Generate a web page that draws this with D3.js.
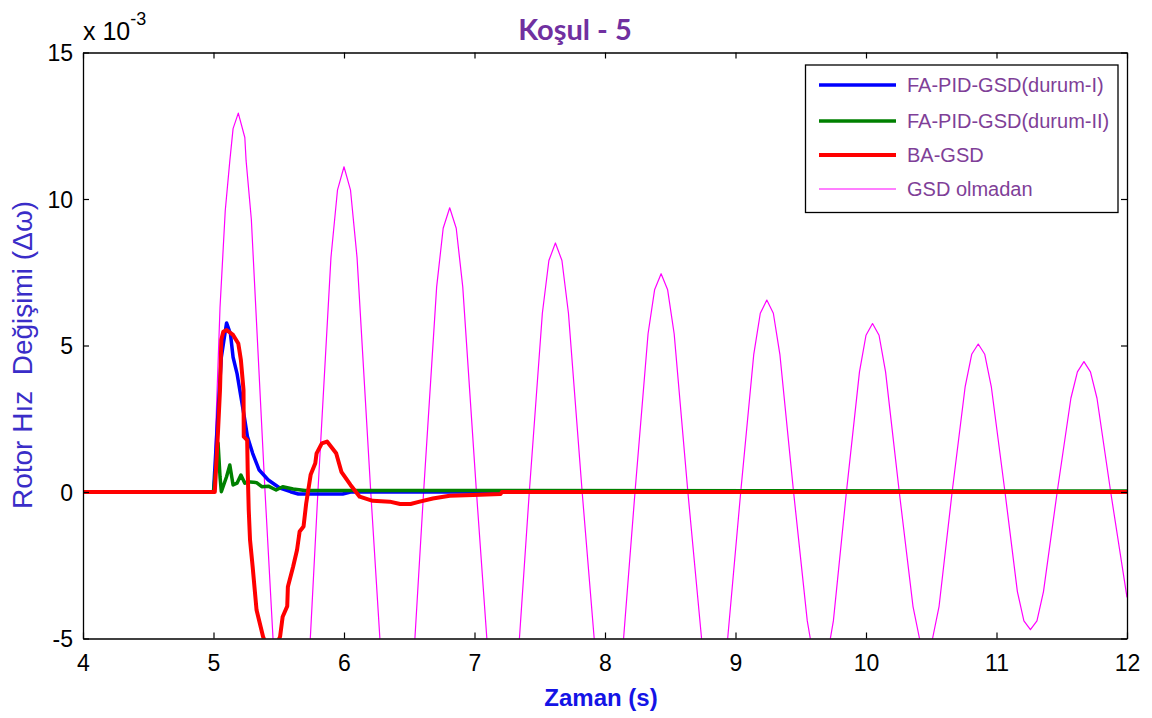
<!DOCTYPE html>
<html>
<head>
<meta charset="utf-8">
<script src="https://cdn.jsdelivr.net/npm/d3@7"></script>
<style>
  html, body { margin: 0; padding: 0; background: #fff; }
  svg { display: block; }
  text { font-family: "Liberation Sans", Arial, sans-serif; }
</style>
</head>
<body>
<svg id="chart" width="1152" height="718"></svg>
<script>
// ---------- data ----------
const xTicks = [4, 5, 6, 7, 8, 9, 10, 11, 12];
const yTicks = [-5, 0, 5, 10, 15];
const seriesNames = ["FA-PID-GSD(durum-I)", "FA-PID-GSD(durum-II)", "BA-GSD", "GSD olmadan"];
const seriesColors = ["#0000FF", "#008000", "#FF0000", "#FF00FF"];

const blueT = [4, 5.0, 5.03, 5.06, 5.10, 5.13, 5.15, 5.18, 5.21, 5.24, 5.26, 5.30, 5.35, 5.42, 5.51, 5.59, 5.65, 5.99, 6.05, 12];
const blueV = [0, 0, 2.35, 4.6, 5.77, 5.4, 4.6, 4.05, 3.25, 2.46, 1.89, 1.32, 0.75, 0.41, 0.13, 0.01, -0.07, -0.07, 0, 0];

const greenT = [4, 5.0, 5.02, 5.035, 5.05, 5.06, 5.10, 5.125, 5.15, 5.18, 5.21, 5.24, 5.26, 5.33, 5.37, 5.42, 5.48, 5.53, 5.61, 5.70, 7.22, 12];
const greenV = [0, 0, 0.9, 1.67, 0.52, 0.01, 0.52, 0.92, 0.24, 0.3, 0.58, 0.3, 0.35, 0.32, 0.18, 0.2, 0.07, 0.18, 0.1, 0.05, 0.05, 0.03];

const redT = [4, 5.01, 5.035, 5.05, 5.06, 5.075, 5.10, 5.15, 5.19, 5.20, 5.21, 5.23, 5.232, 5.258, 5.262, 5.27, 5.28, 5.30, 5.33, 5.38, 5.44, 5.51, 5.53, 5.565, 5.57, 5.61, 5.64, 5.66, 5.69, 5.71, 5.745, 5.78, 5.79, 5.83, 5.87, 5.94, 5.98, 6.05, 6.12, 6.22, 6.35, 6.43, 6.51, 6.58, 6.68, 6.81, 6.99, 7.20, 7.21, 12];
const redV = [0, 0, 2.1, 3.5, 5.2, 5.47, 5.53, 5.36, 5.07, 4.79, 4.5, 3.48, 1.89, 1.77, 0.75, -0.61, -1.64, -2.55, -4.03, -4.94, -5.6, -4.94, -4.26, -3.9, -3.23, -2.55, -1.98, -1.35, -1.18, -0.4, 0.6, 0.98, 1.32, 1.66, 1.72, 1.32, 0.69, 0.24, -0.16, -0.30, -0.33, -0.41, -0.41, -0.33, -0.22, -0.13, -0.1, -0.07, 0, 0];

const magT = [4, 5.0, 5.05, 5.09, 5.125, 5.15, 5.19, 5.24, 5.25, 5.29, 5.395,
  5.50, 5.55, 5.60, 5.65, 5.70, 5.80,
  5.90, 5.95, 6.00, 6.05, 6.10, 6.205,
  6.31, 6.36, 6.41, 6.46, 6.51, 6.61,
  6.71, 6.76, 6.81, 6.86, 6.91, 7.015,
  7.12, 7.17, 7.22, 7.27, 7.32, 7.42,
  7.52, 7.57, 7.62, 7.67, 7.72, 7.825,
  7.93, 7.98, 8.03, 8.08, 8.13, 8.23,
  8.33, 8.38, 8.43, 8.48, 8.53, 8.635,
  8.74, 8.79, 8.84, 8.89, 8.94, 9.04,
  9.14, 9.19, 9.24, 9.29, 9.34, 9.445,
  9.55, 9.60, 9.65, 9.70, 9.75, 9.85,
  9.95, 10.00, 10.05, 10.10, 10.15, 10.255,
  10.36, 10.41, 10.46, 10.51, 10.56, 10.66,
  10.76, 10.81, 10.86, 10.91, 10.96, 11.065,
  11.16, 11.21, 11.26, 11.31, 11.36, 11.465,
  11.57, 11.62, 11.67, 11.72, 11.77, 11.875, 12.0];
const magV = [0, 0, 6.3, 9.6, 11.3, 12.4, 12.93, 12.1, 11.3, 9.3, 0,
  -8.6, -11.2, -12.0, -11.2, -8.6, 0,
  8.0, 10.3, 11.1, 10.3, 8.0, 0,
  -7.5, -9.7, -10.4, -9.7, -7.5, 0,
  7.0, 9.0, 9.7, 9.0, 7.0, 0,
  -6.6, -8.5, -9.1, -8.5, -6.6, 0,
  6.1, 7.9, 8.5, 7.9, 6.1, 0,
  -5.7, -7.4, -7.95, -7.4, -5.7, 0,
  5.4, 6.9, 7.45, 6.9, 5.4, 0,
  -5.0, -6.5, -7.0, -6.5, -5.0, 0,
  4.7, 6.1, 6.55, 6.1, 4.7, 0,
  -4.4, -5.7, -6.1, -5.7, -4.4, 0,
  4.1, 5.35, 5.75, 5.35, 4.1, 0,
  -3.9, -5.0, -5.35, -5.0, -3.9, 0,
  3.6, 4.7, 5.05, 4.7, 3.6, 0,
  -3.4, -4.4, -4.7, -4.4, -3.4, 0,
  3.2, 4.1, 4.45, 4.1, 3.2, 0, -3.6];

// ---------- chart ----------
const svg = d3.select("#chart");
const L = 83, R = 1127, T = 52.5, B = 638.5;
const x = d3.scaleLinear().domain([4, 12]).range([L, R]);
const y = d3.scaleLinear().domain([-5, 15]).range([B, T]);

svg.append("rect").attr("width", 1152).attr("height", 718).attr("fill", "#fff");

svg.append("defs").append("clipPath").attr("id", "clip")
  .append("rect").attr("x", L).attr("y", T).attr("width", R - L).attr("height", B - T);

const zip = (ts, vs) => ts.map((t, i) => [t, vs[i]]);
const line = d3.line().x(d => x(d[0])).y(d => y(d[1]));

const plot = svg.append("g").attr("clip-path", "url(#clip)");
const series = [
  { data: zip(magT, magV), color: seriesColors[3], w: 1.2 },
  { data: zip(blueT, blueV), color: seriesColors[0], w: 3.5 },
  { data: zip(greenT, greenV), color: seriesColors[1], w: 3.5 },
  { data: zip(redT, redV), color: seriesColors[2], w: 4 }
];
series.forEach(s => {
  plot.append("path").datum(s.data).attr("d", line)
    .attr("fill", "none").attr("stroke", s.color)
    .attr("stroke-width", s.w).attr("stroke-linejoin", "round");
});

// axes
const fmt = d => String(d);
const axB = svg.append("g").attr("transform", `translate(0,${B})`)
  .call(d3.axisBottom(x).tickValues(xTicks).tickFormat(fmt).tickSizeInner(-6).tickSizeOuter(0).tickPadding(16));
const axT = svg.append("g").attr("transform", `translate(0,${T})`)
  .call(d3.axisTop(x).tickValues(xTicks).tickFormat("").tickSizeInner(-6).tickSizeOuter(0));
const axL = svg.append("g").attr("transform", `translate(${L},0)`)
  .call(d3.axisLeft(y).tickValues(yTicks).tickFormat(fmt).tickSizeInner(-6).tickSizeOuter(0).tickPadding(10));
const axR = svg.append("g").attr("transform", `translate(${R},0)`)
  .call(d3.axisRight(y).tickValues(yTicks).tickFormat("").tickSizeInner(-6).tickSizeOuter(0));
[axB, axT, axL, axR].forEach(a => {
  a.selectAll("path.domain").attr("stroke", "#000").attr("stroke-width", 1.3);
  a.selectAll(".tick line").attr("stroke", "#000").attr("stroke-width", 1.2);
  a.selectAll(".tick text").attr("fill", "#000").style("font-size", "23px")
    .style("font-family", "'Liberation Sans', Arial, sans-serif");
});
axL.selectAll(".tick text").attr("dy", "0.35em");

// exponent label
const ex = svg.append("text").attr("x", 83).attr("y", 40).attr("fill", "#000")
  .style("font-size", "25px");
ex.append("tspan").text("x 10");
ex.append("tspan").attr("dy", -15).style("font-size", "18px").text("-3");

// title
svg.append("text").attr("x", 575).attr("y", 40).attr("text-anchor", "middle")
  .attr("fill", "#7030A0").style("font-family", "Lato, 'Open Sans', sans-serif")
  .style("font-weight", "bold").style("font-size", "29px").text("Koşul - 5");

// x label
svg.append("text").attr("x", 601).attr("y", 706).attr("text-anchor", "middle")
  .attr("fill", "#1414E6").style("font-weight", "bold").style("font-size", "24px").text("Zaman (s)");

// y label
svg.append("text").attr("transform", "translate(32,355) rotate(-90)").attr("text-anchor", "middle")
  .attr("fill", "#3A2DC8").style("font-size", "28px").style("white-space", "pre")
  .text("Rotor Hız  Değişimi (Δω)");

// legend
const lg = svg.append("g");
lg.append("rect").attr("x", 805.5).attr("y", 65).attr("width", 312.5).attr("height", 147.5)
  .attr("fill", "#fff").attr("stroke", "#000").attr("stroke-width", 1.3);
const legY = [85, 121, 155, 189];
const legW = [3.5, 3.5, 4, 1.2];
seriesNames.forEach((name, i) => {
  lg.append("line").attr("x1", 819).attr("x2", 896).attr("y1", legY[i]).attr("y2", legY[i])
    .attr("stroke", seriesColors[i]).attr("stroke-width", legW[i]);
  lg.append("text").attr("x", 907).attr("y", legY[i] + 7).attr("fill", "#7F3F98")
    .style("font-size", "20px").text(name);
});
</script>
</body>
</html>
